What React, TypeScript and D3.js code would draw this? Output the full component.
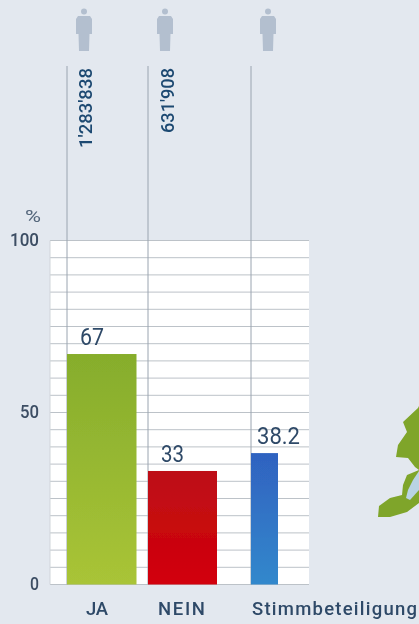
import React from "react";
import * as d3 from "d3";

const categories = ["JA", "NEIN", "Stimmbeteiligung"];
const percentValues = [67, 33, 38.2];
const valueLabels = ["67", "33", "38.2"];
const voteCounts = ["1'283'838", "631'908", ""];
const yTickLabels = [0, 50, 100];
const gridValues = d3.range(0, 101, 5);
const barTopColors = ["#86ad2c", "#bd0f16", "#2f62c0"];
const barBottomColors = ["#a9c437", "#d20009", "#3388cc"];

const W = 419, H = 624;
const barLeft = d3.scaleOrdinal<string, number>().domain(categories).range([67, 148, 251]);
const barWidth = d3.scaleOrdinal<string, number>().domain(categories).range([69.5, 69, 27]);
const labelLeft = d3.scaleOrdinal<string, number>().domain(categories).range([86, 158, 252]);
const labelLen = d3.scaleOrdinal<string, number>().domain(categories).range([22, 47, 165]);
const valueLeft = d3.scaleOrdinal<string, number>().domain(categories).range([80, 161, 257]);
const valueLen = d3.scaleOrdinal<string, number>().domain(categories).range([24, 23, 43]);
const countLen = d3.scaleOrdinal<string, number>().domain(categories).range([80, 65, 0]);
const tickLen = d3.scaleOrdinal<number, number>().domain(yTickLabels).range([9, 19, 29]);
const y = d3.scaleLinear().domain([0, 100]).range([584.5, 240.5]);
const FONT = "Roboto, sans-serif";
const INK = "#2f4a68";

const mapOutline: [number, number][] = [
  [419, 406], [418, 408], [403, 422], [407, 432], [398, 445], [396, 457], [408, 458],
  [415, 467], [419, 470], [407, 475], [403, 485], [402, 495], [390, 498], [379, 506],
  [378, 517], [390, 517], [407, 512], [419, 503],
];
const lakeOutline: [number, number][] = [
  [419, 471], [413, 480], [408, 490], [406, 498], [410, 500], [419, 490],
];
const closed = d3.line().curve(d3.curveLinearClosed);

function Person({ cx }: { cx: number }) {
  return (
    <g fill="#b3bfcf" transform={`translate(${cx},8)`}>
      <circle cx={0} cy={3.5} r={3} />
      <path d="M-6,8 L6,8 L8,11 L8,26 L5.5,26 L5,43 L-5,43 L-5.5,26 L-8,26 L-8,11 Z" />
    </g>
  );
}

export default function App() {
  return (
    <svg width={W} height={H} viewBox={`0 0 ${W} ${H}`}
      style={{ position: "fixed", left: 0, top: 0, display: "block" }}>
      <defs>
        {categories.map((c, i) => (
          <linearGradient key={c} id={`bar${i}`} x1="0" y1="0" x2="0" y2="1">
            <stop offset="0" stopColor={barTopColors[i]} />
            <stop offset="1" stopColor={barBottomColors[i]} />
          </linearGradient>
        ))}
        <filter id="soft" x="-5%" y="-5%" width="110%" height="110%">
          <feGaussianBlur stdDeviation="0.45" />
        </filter>
      </defs>
      <rect width={W} height={H} fill="#e3e8ef" />
      <g filter="url(#soft)">
        <rect x={50} y={y(100)} width={259} height={y(0) - y(100)} fill="#ffffff" />
        {gridValues.map((g) => (
          <line key={g} x1={50} x2={309} y1={y(g)} y2={y(g)} stroke="#bcc2c8" strokeWidth={1} />
        ))}
        <line x1={50} x2={50} y1={y(100)} y2={y(0)} stroke="#d0d5da" />
        {categories.map((c) => (
          <line key={c} x1={barLeft(c)} x2={barLeft(c)} y1={66} y2={y(0)} stroke="#9aa4b0" strokeWidth={1} />
        ))}
        {categories.map((c, i) => (
          <rect key={c} x={barLeft(c)} y={y(percentValues[i])} width={barWidth(c)}
            height={y(0) - y(percentValues[i])} fill={`url(#bar${i})`} />
        ))}
        {categories.map((c) => <Person key={c} cx={barLeft(c) + 17} />)}
        {categories.map((c, i) => voteCounts[i] && (
          <text key={c} transform={`translate(${barLeft(c) + (i === 0 ? 25 : 26)},68) rotate(-90)`} textAnchor="end"
            fontFamily={FONT} fontSize={18} fontWeight={500} fill="#1f4a72"
            textLength={countLen(c)} lengthAdjust="spacingAndGlyphs">{voteCounts[i]}</text>
        ))}
        {categories.map((c, i) => (
          <text key={c} x={valueLeft(c)} y={y(percentValues[i]) - 9} fontFamily={FONT} fontSize={24} fill={INK}
            textLength={valueLen(c)} lengthAdjust="spacingAndGlyphs">{valueLabels[i]}</text>
        ))}
        {yTickLabels.map((t) => (
          <text key={t} x={39 - tickLen(t)} y={y(t) + 5} fontFamily={FONT} fontSize={18} fontWeight={500} fill="#3c4e64"
            textLength={tickLen(t)} lengthAdjust="spacingAndGlyphs">{t}</text>
        ))}
        <text x={25} y={222} fontFamily={FONT} fontSize={17} fill="#55677c"
          textLength={16} lengthAdjust="spacingAndGlyphs">%</text>
        {categories.map((c) => (
          <text key={c} x={labelLeft(c)} y={615} fontFamily={FONT} fontSize={18.5} fontWeight={500}
            fill={INK} textLength={labelLen(c)} lengthAdjust="spacing">{c}</text>
        ))}
        <path d={closed(mapOutline) ?? ""} fill="#7fa52a" />
        <path d={closed(lakeOutline) ?? ""} fill="#b9d3e4" />
      </g>
    </svg>
  );
}
